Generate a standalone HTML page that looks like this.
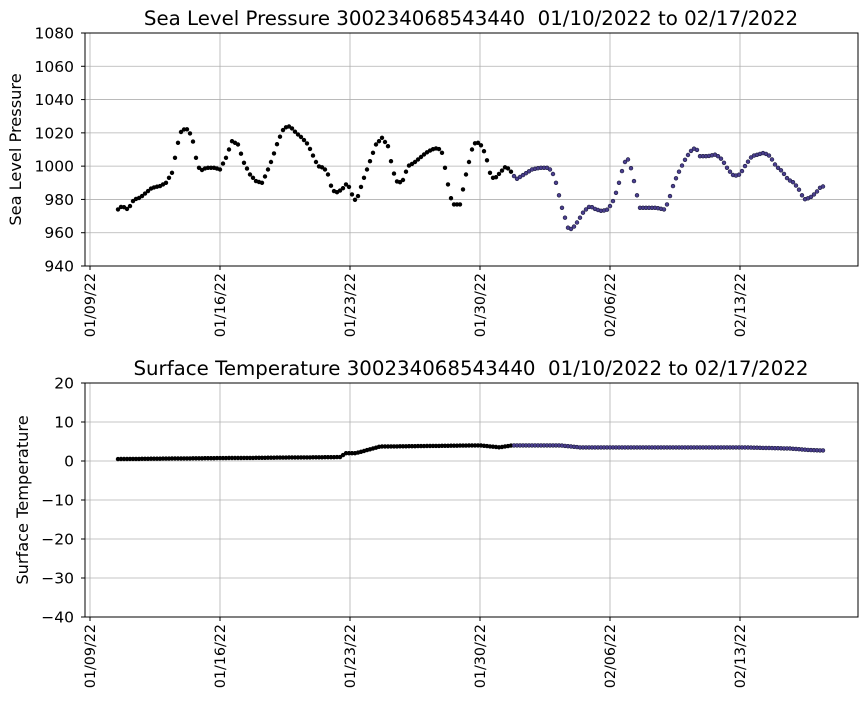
<!DOCTYPE html>
<html><head><meta charset="utf-8"><style>
body{margin:0;background:#fff;}
svg text{font-family:"DejaVu Sans","Liberation Sans",sans-serif;}
</style></head><body>
<svg id="s" width="867" height="700" xmlns="http://www.w3.org/2000/svg"></svg>
<script>
const s=document.getElementById('s');let h='';
const xt=[[90,'01/09/22'],[220,'01/16/22'],[350,'01/23/22'],[480,'01/30/22'],[610,'02/06/22'],[740,'02/13/22']];
function axes(top,bot,ticks,ymap,title,ylab,labx){
  for(const v of ticks){const y=ymap(v);h+=`<line x1="85" x2="858" y1="${y}" y2="${y}" stroke="#b0b0b0" stroke-width="0.8"/>`;
    h+=`<line x1="81" x2="85" y1="${y}" y2="${y}" stroke="#000"/><text x="74" y="${y+5.5}" font-size="15.5" text-anchor="end">${String(v).replace('-','\u2212')}</text>`;}
  for(const [x,l] of xt){h+=`<line x1="${x}" x2="${x}" y1="${top}" y2="${bot}" stroke="#b0b0b0" stroke-width="0.8"/><line x1="${x}" x2="${x}" y1="${bot}" y2="${bot+4}" stroke="#000"/>`;
    h+=`<text transform="translate(${x+5},${bot+7}) rotate(-90)" font-size="14.3" text-anchor="end">${l}</text>`;}
  h+=`<text x="471" y="${top-8}" font-size="19.8" text-anchor="middle" style="white-space:pre">${title}</text>`;
  h+=`<text transform="translate(${labx},${(top+bot)/2}) rotate(-90)" font-size="16.2" text-anchor="middle">${ylab}</text>`;
}
function frame(top,bot){h+=`<rect x="85" y="${top}" width="773" height="${bot-top}" fill="none" stroke="#000" stroke-width="1"/>`;}
function interp(k,x){for(let i=0;i<k.length-1;i++){if(x<=k[i+1][0]){const t=(x-k[i][0])/(k[i+1][0]-k[i][0]);return k[i][1]+t*(k[i+1][1]-k[i][1]);}}return k[k.length-1][1];}
function pts(k,ymap){for(let x=118;x<=824;x+=3){const y=ymap(interp(k,x));const c=x<512?'fill="#000" stroke="#000"':'fill="#4b3f8f" stroke="#1a1a3a"';h+=`<circle cx="${x}" cy="${y.toFixed(1)}" r="1.9" ${c} stroke-width="0.6"/>`;}}
const P=[[118,974],[122,976],[128,974],[134,980],[140,981],[146,984],[152,987],[160,988],[166,990],[172,996],[176,1008],[180,1020],[186,1023],[192,1018],[196,1005],[200,997],[206,999],[214,999],[220,998],[226,1005],[232,1015],[238,1013],[244,1002],[250,995],[256,991],[262,990],[266,995],[272,1004],[278,1015],[284,1023],[290,1024],[296,1020],[302,1017],[308,1013],[314,1005],[318,1000],[324,999],[328,995],[332,986],[336,984],[342,986],[346,989],[350,987],[354,979],[358,982],[364,993],[370,1003],[376,1013],[382,1017],[388,1012],[392,1000],[396,991],[402,990],[408,1000],[414,1002],[420,1005],[426,1008],[432,1010],[438,1011],[442,1008],[446,996],[450,982],[454,977],[460,977],[466,995],[472,1010],[476,1015],[482,1012],[486,1006],[490,996],[494,992],[500,996],[506,1000],[512,996],[516,992],[524,995],[532,998],[540,999],[548,999],[552,997],[556,990],[562,975],[568,963],[572,962],[578,967],[584,973],[590,976],[596,974],[602,973],[608,974],[614,980],[620,992],[624,1002],[628,1004],[632,997],[636,985],[640,975],[650,975],[656,975],[664,974],[668,978],[674,990],[680,998],[686,1005],[692,1010],[696,1011],[700,1006],[708,1006],[716,1007],[722,1004],[728,998],[734,994],[740,995],[746,1001],[752,1006],[758,1007],[764,1008],[770,1006],[776,1000],[782,997],[788,992],[794,990],[800,985],[804,980],[810,981],[816,984],[820,987],[824,988]];
const T=[[118,0.5],[200,0.7],[250,0.8],[340,1],[346,2],[356,2],[370,3],[380,3.7],[480,4],[500,3.5],[512,4],[560,4],[580,3.5],[600,3.5],[700,3.5],[740,3.5],[790,3.2],[810,2.8],[824,2.7]];
const py=v=>33+(1080-v)*233/140, ty=v=>383+(20-v)*234/60;
axes(33,266,[940,960,980,1000,1020,1040,1060,1080],py,'Sea Level Pressure 300234068543440  01/10/2022 to 02/17/2022','Sea Level Pressure',21);
pts(P,py);frame(33,266);
axes(383,617,[-40,-30,-20,-10,0,10,20],ty,'Surface Temperature 300234068543440  01/10/2022 to 02/17/2022','Surface Temperature',28);
pts(T,ty);frame(383,617);
s.innerHTML=h;
</script>
</body></html>
